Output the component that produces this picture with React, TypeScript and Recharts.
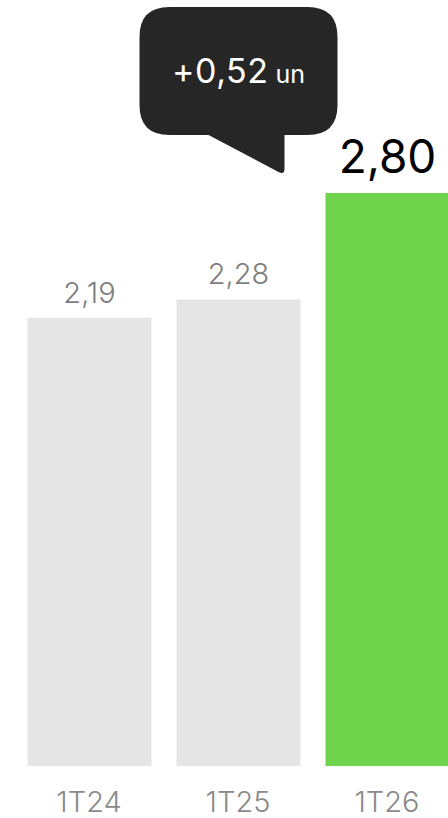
import { Bar, BarChart, Cell, LabelList, XAxis, YAxis } from "recharts";

const categories = ["1T24", "1T25", "1T26"];
const values = [2.19, 2.28, 2.8];
const highlight = [false, false, true];

const GRAY = "#e5e5e5";
const GREEN = "#6fd44b";
const FONT = "Inter, 'Noto Sans', sans-serif";

const fmt = (v: number, d = 2) => v.toFixed(d).replace(".", ",");

const data = categories.map((c, i) => ({ cat: c, value: values[i], hi: highlight[i] }));

const delta = values[values.length - 1] - values[values.length - 2];

function ValueLabel(props: any) {
  const { x, y, width, index, value } = props;
  const cx = x + width / 2;
  if (!highlight[index]) {
    return (
      <text
        x={cx}
        y={y - 15}
        textAnchor="middle"
        fill="#7d7d7d"
        fontSize={29}
        fontWeight={300}
        fontFamily={FONT}
      >
        {fmt(value)}
      </text>
    );
  }
  // bubble annotation hangs off the highlighted bar's top-left corner
  const bx = x - 186;
  const by = y - 186;
  const bw = 198;
  const bh = 128;
  const r = 30;
  const tipX = x - 47;
  const tipY = y - 20;
  const path = [
    `M ${bx + r} ${by}`,
    `H ${bx + bw - r}`,
    `Q ${bx + bw} ${by} ${bx + bw} ${by + r}`,
    `V ${by + bh - r}`,
    `Q ${bx + bw} ${by + bh} ${bx + bw - r} ${by + bh}`,
    `H ${tipX + 6}`,
    `V ${tipY - 4}`,
    `Q ${tipX + 6} ${tipY + 2} ${tipX} ${tipY - 1}`,
    `L ${bx + 69} ${by + bh}`,
    `H ${bx + r}`,
    `Q ${bx} ${by + bh} ${bx} ${by + bh - r}`,
    `V ${by + r}`,
    `Q ${bx} ${by} ${bx + r} ${by}`,
    "Z",
  ].join(" ");
  return (
    <g>
      <path d={path} fill="#262626" />
      <text
        x={bx + bw / 2}
        y={by + bh / 2 + 12}
        textAnchor="middle"
        fill="#fff"
        fontFamily={FONT}
      >
        <tspan fontSize={34} fontWeight={400} letterSpacing={0.5}>{`+${fmt(delta)}`}</tspan>
        <tspan fontSize={25} fontWeight={400} dx={7}>un</tspan>
      </text>
      <text
        x={cx}
        y={y - 20}
        textAnchor="middle"
        fill="#000"
        fontSize={46}
        fontWeight={400}
        fontFamily={FONT}
      >
        {fmt(value)}
      </text>
    </g>
  );
}

function CatTick(props: any) {
  const { x, y, payload } = props;
  return (
    <text
      x={x}
      y={y + 44}
      textAnchor="middle"
      fill="#8a8a8a"
      fontSize={29}
      fontWeight={300}
      fontFamily={FONT}
    >
      {payload.value}
    </text>
  );
}

export default function App() {
  return (
    <div style={{ position: "absolute", left: 0, top: 0, width: 448, height: 818, overflow: "hidden", background: "#fff" }}>
      <BarChart
        width={476}
        height={818}
        data={data}
        margin={{ top: 193, right: 14.5, left: 14.5, bottom: 0 }}
        barCategoryGap={25}
      >
        <XAxis
          dataKey="cat"
          axisLine={false}
          tickLine={false}
          tickSize={0}
          height={52}
          interval={0}
          tick={<CatTick />}
        />
        <YAxis hide domain={[0, "dataMax"]} />
        <Bar dataKey="value" barSize={124} isAnimationActive={false}>
          {data.map((d) => (
            <Cell key={d.cat} fill={d.hi ? GREEN : GRAY} />
          ))}
          <LabelList dataKey="value" content={<ValueLabel />} />
        </Bar>
      </BarChart>
    </div>
  );
}
